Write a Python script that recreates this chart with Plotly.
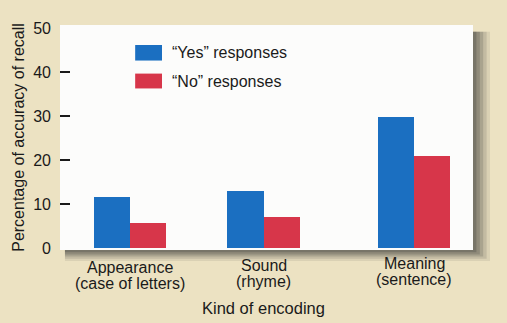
import plotly.graph_objects as go

# Recall accuracy (%) by kind of encoding
categories = ["Appearance", "Sound", "Meaning"]
subtitles = ["(case of letters)", "(rhyme)", "(sentence)"]
yes_values = [11.5, 13.0, 29.8]
no_values = [5.8, 7.0, 20.8]
y_ticks = [0, 10, 20, 30, 40, 50]

# layout helpers (group centres on a numeric axis)
group_pos = [0.0, 0.94, 2.0]
bar_w = 0.254
label_y = [(-0.076, -0.147), (-0.07, -0.142), (-0.058, -0.13)]

BLUE = "#1b6fc1"
RED = "#d7364a"
BEIGE = "#ece2c2"
INK = "#1a1a1a"
FONT = "Liberation Sans, Arial, sans-serif"

fig = go.Figure()
fig.add_trace(go.Bar(x=group_pos, y=yes_values, width=bar_w, offset=-bar_w,
                     marker=dict(color=BLUE, line=dict(width=0)), name="“Yes” responses"))
fig.add_trace(go.Bar(x=group_pos, y=no_values, width=bar_w, offset=0,
                     marker=dict(color=RED, line=dict(width=0)), name="“No” responses"))

shapes = []
# soft drop shadow to the right and below the white panel
for i, op in enumerate([0.10, 0.14, 0.18, 0.22, 0.26]):
    d = 5 - i
    shapes.append(dict(type="rect", xref="paper", yref="paper", layer="below",
                       x0=0.012, x1=1.0 + (d * 3.4) / 413,
                       y0=-(d * 2.2) / 225, y1=0.97,
                       fillcolor=f"rgba(55,55,55,{op})", line=dict(width=0)))
shapes.append(dict(type="rect", xref="paper", yref="paper", layer="below",
                   x0=0, x1=1, y0=0, y1=1, fillcolor="#fcfcfb", line=dict(width=0)))

# hand-built legend swatches
shapes.append(dict(type="rect", xref="paper", yref="paper", x0=0.182, x1=0.247,
                   y0=0.842, y1=0.911, fillcolor=BLUE, line=dict(width=0)))
shapes.append(dict(type="rect", xref="paper", yref="paper", x0=0.182, x1=0.247,
                   y0=0.718, y1=0.784, fillcolor=RED, line=dict(width=0)))

annotations = [
    dict(xref="paper", yref="paper", x=0.266, y=0.879, text="“Yes” responses",
         showarrow=False, xanchor="left", yanchor="middle", font=dict(size=16, color=INK)),
    dict(xref="paper", yref="paper", x=0.266, y=0.751, text="“No” responses",
         showarrow=False, xanchor="left", yanchor="middle", font=dict(size=16, color=INK)),
    dict(xref="paper", yref="paper", x=0.493, y=-0.258, text="Kind of encoding",
         showarrow=False, xanchor="center", yanchor="middle", font=dict(size=16.5, color=INK)),
]
for gx, cat, sub, (ly1, ly2) in zip(group_pos, categories, subtitles, label_y):
    annotations.append(dict(x=gx, xref="x", yref="paper", y=ly1, text=cat, showarrow=False,
                            yanchor="middle", font=dict(size=16, color=INK)))
    annotations.append(dict(x=gx, xref="x", yref="paper", y=ly2, text=sub, showarrow=False,
                            yanchor="middle", font=dict(size=16, color=INK)))

fig.update_layout(
    width=507, height=323,
    margin=dict(l=60, r=34, t=25, b=73),
    paper_bgcolor=BEIGE,
    plot_bgcolor="rgba(0,0,0,0)",
    font=dict(family=FONT, size=15, color=INK),
    showlegend=False,
    bargap=0,
    shapes=shapes,
    annotations=annotations,
    xaxis=dict(range=[-0.493, 2.415], showticklabels=False, ticks="",
               showgrid=False, zeroline=False, showline=False, fixedrange=True),
    yaxis=dict(range=[-0.45, 50.68], tickvals=y_ticks, ticks="", showgrid=False,
               zeroline=False, showline=False, ticklabelstandoff=8,
               tickfont=dict(size=16, color=INK),
               minor=dict(tickvals=[10, 20, 30, 40], ticks="inside", ticklen=10,
                          tickwidth=1.5, tickcolor=INK, showgrid=False),
               title=dict(text="Percentage of accuracy of recall", standoff=4,
                          font=dict(size=16, color=INK))),
)

fig.write_html("out.html")
